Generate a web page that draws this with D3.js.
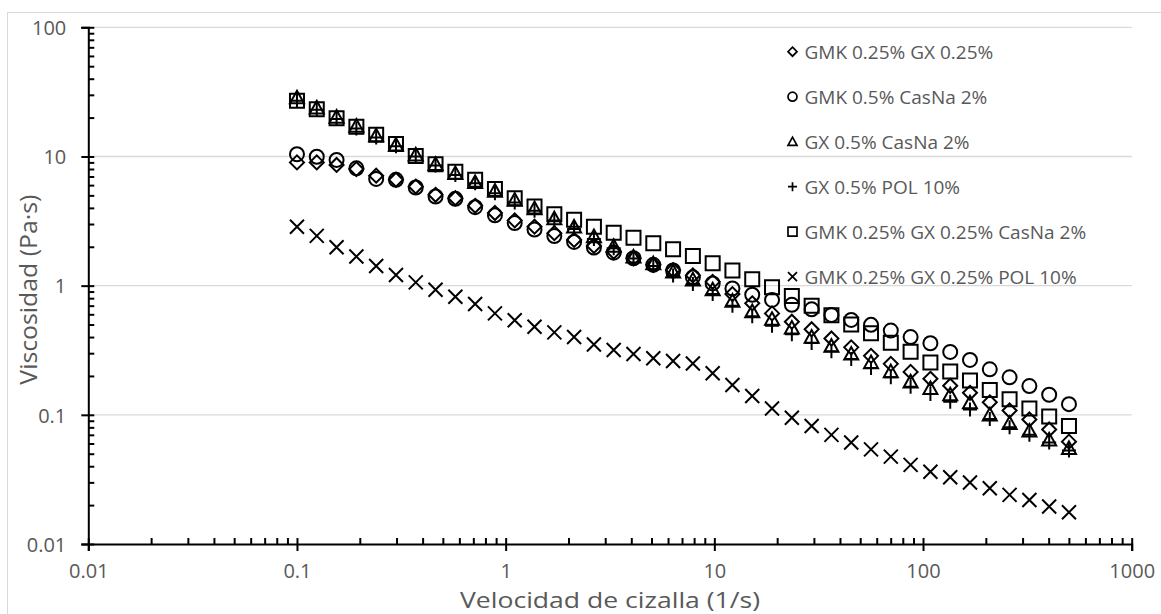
<!DOCTYPE html>
<html>
<head>
<meta charset="utf-8">
<script src="https://cdn.jsdelivr.net/npm/d3@7"></script>
<style>
  body { margin: 0; background: #fff; }
  svg text { font-family: 'Open Sans', sans-serif; }
</style>
</head>
<body>
<div class="svgcontainer"></div>
<script>
// shear rates (1/s), shared by every series
const shearRate = [
  0.1, 0.1244, 0.1548, 0.1926, 0.2396, 0.2981, 0.3708, 0.4613, 0.574, 0.7141,
  0.8884, 1.105, 1.375, 1.711, 2.128, 2.648, 3.294, 4.098, 5.099, 6.343,
  7.892, 9.818, 12.21, 15.19, 18.9, 23.52, 29.26, 36.4, 45.28, 56.34,
  70.09, 87.2, 108.5, 135, 167.9, 208.9, 259.9, 323.4, 402.3, 500.5,
];

const gmkGx = [
  9.0, 9.0, 8.6, 8.0, 7.1, 6.6, 5.85, 5.05, 4.75, 4.15,
  3.65, 3.2, 2.86, 2.55, 2.26, 2.03, 1.83, 1.63, 1.45, 1.32,
  1.2, 1.07, 0.86, 0.73, 0.61, 0.526, 0.46, 0.39, 0.333, 0.286,
  0.248, 0.215, 0.19, 0.168, 0.148, 0.125, 0.108, 0.092, 0.077, 0.062,
];
const gmkCasna = [
  10.4, 9.95, 9.4, 8.1, 6.7, 6.6, 5.75, 4.9, 4.7, 4.05,
  3.5, 3.05, 2.72, 2.42, 2.18, 1.97, 1.8, 1.63, 1.45, 1.31,
  1.16, 1.04, 0.95, 0.85, 0.775, 0.71, 0.656, 0.593, 0.543, 0.497,
  0.449, 0.4, 0.358, 0.307, 0.266, 0.225, 0.195, 0.167, 0.143, 0.121,
];
const gxCasna = [
  28.5, 23.8, 20.2, 17.2, 14.5, 12.3, 10.3, 8.7, 7.4, 6.3,
  5.4, 4.6, 3.95, 3.3, 2.85, 2.4, 2.02, 1.67, 1.48, 1.28,
  1.11, 0.93, 0.76, 0.63, 0.55, 0.47, 0.4, 0.34, 0.296, 0.254,
  0.216, 0.18, 0.16, 0.143, 0.124, 0.1, 0.086, 0.075, 0.064, 0.055,
];
const gxPol = [
  27.0, 23.0, 19.5, 16.5, 14.0, 12.0, 10.0, 8.5, 7.2, 6.2,
  5.2, 4.4, 3.8, 3.2, 2.75, 2.3, 1.95, 1.62, 1.42, 1.2,
  1.03, 0.86, 0.7, 0.58, 0.49, 0.42, 0.36, 0.31, 0.27, 0.23,
  0.195, 0.165, 0.145, 0.126, 0.11, 0.093, 0.08, 0.07, 0.061, 0.053,
];
const gmkGxCasna = [
  27.0, 23.2, 19.8, 17.0, 14.7, 12.5, 10.1, 8.7, 7.6, 6.6,
  5.6, 4.75, 4.1, 3.57, 3.23, 2.86, 2.57, 2.35, 2.13, 1.91,
  1.7, 1.49, 1.31, 1.12, 0.97, 0.83, 0.7, 0.59, 0.5, 0.428,
  0.362, 0.308, 0.254, 0.216, 0.184, 0.156, 0.132, 0.112, 0.097, 0.082,
];
const gmkGxPol = [
  2.86, 2.43, 1.98, 1.68, 1.42, 1.21, 1.06, 0.93, 0.82, 0.72,
  0.61, 0.54, 0.48, 0.435, 0.4, 0.35, 0.318, 0.296, 0.274, 0.261,
  0.25, 0.21, 0.17, 0.14, 0.112, 0.095, 0.082, 0.07, 0.061, 0.054,
  0.0475, 0.041, 0.0363, 0.0329, 0.0299, 0.027, 0.024, 0.0219, 0.0195, 0.0176,
];

const seriesNames = [
  'GMK 0.25% GX 0.25%',
  'GMK 0.5% CasNa 2%',
  'GX 0.5% CasNa 2%',
  'GX 0.5% POL 10%',
  'GMK 0.25% GX 0.25% CasNa 2%',
  'GMK 0.25% GX 0.25% POL 10%',
];
const seriesShapes = ['diamond', 'circle', 'triangle', 'plus', 'square', 'cross'];
const seriesValues = [gmkGx, gmkCasna, gxCasna, gxPol, gmkGxCasna, gmkGxPol];

const xTicks = [0.01, 0.1, 1, 10, 100, 1000];
const xTickLabels = ['0.01', '0.1', '1', '10', '100', '1000'];
const yTicks = [0.01, 0.1, 1, 10, 100];
const yTickLabels = ['0.01', '0.1', '1', '10', '100'];

const svg = d3
  .select('.svgcontainer')
  .append('svg')
  .attr('width', 1161)
  .attr('height', 614);

// chart border
svg.append('rect')
  .attr('x', 7.5)
  .attr('y', 12.5)
  .attr('width', 1170)
  .attr('height', 620)
  .attr('fill', 'none')
  .attr('stroke', '#d9d9d9');

const plot = {left: 88.3, right: 1131.7, top: 27.3, bottom: 544};

const x = d3.scaleLog().domain([0.01, 1000]).range([plot.left, plot.right]);
const y = d3.scaleLog().domain([0.01, 100]).range([plot.bottom, plot.top]);

// minor ticks 2..9 in every decade
function minorTicks(ticks) {
  const out = [];
  ticks.slice(0, -1).forEach(t => {
    for (let k = 2; k <= 9; k++) out.push(t * k);
  });
  return out;
}

// gridlines
svg.append('g')
  .selectAll('line')
  .data(yTicks.slice(1))
  .enter()
  .append('line')
  .attr('x1', plot.left)
  .attr('x2', plot.right)
  .attr('y1', d => y(d))
  .attr('y2', d => y(d))
  .attr('stroke', '#d9d9d9')
  .attr('stroke-width', 1.3);

// x axis
const gx = svg.append('g')
  .attr('transform', `translate(0,${plot.bottom})`)
  .call(d3.axisBottom(x).tickValues(xTicks).tickSize(7)
    .tickFormat((d, i) => xTickLabels[i]));
gx.selectAll('text')
  .attr('y', 19.5)
  .attr('dy', '0.71em')
  .attr('fill', '#595959')
  .style('font-size', '20px');
svg.append('g')
  .attr('transform', `translate(0,${plot.bottom})`)
  .call(d3.axisTop(x).tickValues(xTicks.concat(minorTicks(xTicks))).tickSize(6).tickFormat(''))
  .select('.domain').remove();

// y axis
const gy = svg.append('g')
  .attr('transform', `translate(${plot.left},0)`)
  .call(d3.axisLeft(y).tickValues(yTicks).tickSize(7)
    .tickFormat((d, i) => yTickLabels[i]));
gy.selectAll('text')
  .attr('x', -22)
  .attr('dy', '0.36em')
  .attr('fill', '#595959')
  .style('font-size', '20px');
svg.append('g')
  .attr('transform', `translate(${plot.left},0)`)
  .call(d3.axisRight(y).tickValues(yTicks.concat(minorTicks(yTicks))).tickSize(6).tickFormat(''))
  .select('.domain').remove();

svg.selectAll('.domain, .tick line')
  .attr('stroke', '#000')
  .attr('stroke-width', 2);

// axis titles
svg.append('text')
  .attr('x', 610)
  .attr('y', 607.5)
  .attr('text-anchor', 'middle')
  .attr('fill', '#595959')
  .style('font-size', '22px')
  .attr('textLength', 300)
  .attr('lengthAdjust', 'spacingAndGlyphs')
  .text('Velocidad de cizalla (1/s)');

svg.append('text')
  .attr('transform', `translate(37,${(plot.top + plot.bottom) / 2 + 4}) rotate(-90)`)
  .attr('text-anchor', 'middle')
  .attr('fill', '#595959')
  .style('font-size', '24px')
  .attr('textLength', 190)
  .attr('lengthAdjust', 'spacingAndGlyphs')
  .text('Viscosidad (Pa·s)');

// marker paths centred on 0,0
function markerPath(shape, s) {
  const h = s / 2;
  if (shape === 'diamond') return `M0,${-h}L${h},0L0,${h}L${-h},0Z`;
  if (shape === 'circle') return `M${h},0A${h},${h} 0 1 1 ${-h},0A${h},${h} 0 1 1 ${h},0Z`;
  if (shape === 'triangle') return `M0,${-h}L${h},${h * 0.8}L${-h},${h * 0.8}Z`;
  if (shape === 'plus') return `M${-h},0H${h}M0,${-h}V${h}`;
  if (shape === 'square') return `M${-h},${-h}H${h}V${h}H${-h}Z`;
  return `M${-h},${-h}L${h},${h}M${h},${-h}L${-h},${h}`;
}

const series = seriesNames.map((name, i) => ({
  name: name,
  shape: seriesShapes[i],
  points: shearRate.map((r, j) => ({rate: r, visc: seriesValues[i][j]})),
}));

const serie = svg.selectAll('.serie')
  .data(series)
  .enter()
  .append('g')
  .attr('class', 'serie');

serie.selectAll('path')
  .data(d => d.points.map(p => ({shape: d.shape, rate: p.rate, visc: p.visc})))
  .enter()
  .append('path')
  .attr('transform', d => `translate(${x(d.rate)},${y(d.visc)})`)
  .attr('d', d => markerPath(d.shape, 14))
  .attr('fill', 'none')
  .attr('stroke', '#000')
  .attr('stroke-width', 2);

// legend
const legend = svg.selectAll('.legend')
  .data(series)
  .enter()
  .append('g')
  .attr('class', 'legend')
  .attr('transform', (d, i) => `translate(792.5,${51.7 + i * 45})`);

legend.append('path')
  .attr('d', d => markerPath(d.shape, 9))
  .attr('fill', 'none')
  .attr('stroke', '#000')
  .attr('stroke-width', 1.7);

legend.append('text')
  .attr('x', 12)
  .attr('dy', '0.36em')
  .attr('fill', '#595959')
  .style('font-size', '19px')
  .text(d => d.name);
</script>
</body>
</html>
